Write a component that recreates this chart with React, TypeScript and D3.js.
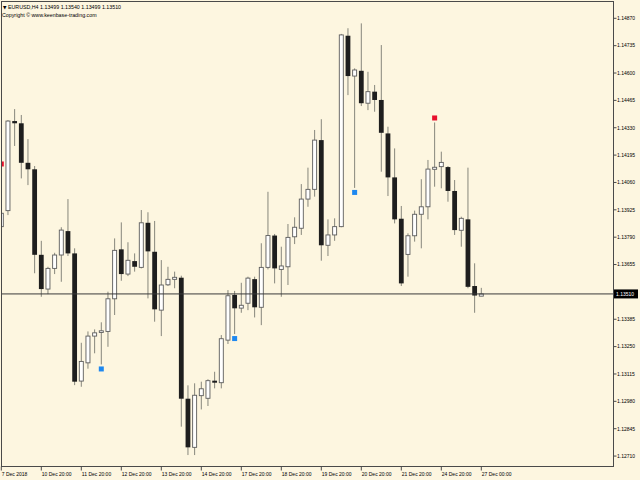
import * as d3 from 'd3';

const W = 640;
const H = 480;

// EURUSD H4 candles, oldest first
const opens = [
  1.13842, 1.13921, 1.14363, 1.14352, 1.14157, 1.14125, 1.13703, 1.13534, 1.13636, 1.13702,
  1.13820, 1.13710, 1.13080, 1.13170, 1.13302, 1.13320, 1.13325, 1.13486, 1.13730, 1.13608,
  1.13672, 1.13641, 1.13861, 1.13718, 1.13430, 1.13555, 1.13582, 1.13590, 1.12993, 1.12753,
  1.13008, 1.12995, 1.13082, 1.13072, 1.13282, 1.13505, 1.13440, 1.13464, 1.13583, 1.13444,
  1.13641, 1.13798, 1.13631, 1.13644, 1.13792, 1.13834, 1.13978, 1.14026, 1.14269, 1.13750,
  1.13801, 1.13842, 1.14784, 1.14585, 1.14611, 1.14451, 1.14508, 1.14467, 1.14302, 1.14085,
  1.13881, 1.13705, 1.13797, 1.13903, 1.13940, 1.14125, 1.14138, 1.14136, 1.14018, 1.13824,
  1.13878, 1.13549, 1.13499,
];
const highs = [
  1.14129, 1.14368, 1.14422, 1.14393, 1.14274, 1.14141, 1.13772, 1.13644, 1.13713, 1.13839,
  1.13978, 1.13735, 1.13269, 1.13325, 1.13335, 1.13370, 1.13521, 1.13784, 1.13863, 1.13765,
  1.13710, 1.13924, 1.13913, 1.13870, 1.13677, 1.13644, 1.13620, 1.13600, 1.13059, 1.13069,
  1.13077, 1.13089, 1.13126, 1.13307, 1.13529, 1.13525, 1.13565, 1.13595, 1.13595, 1.13760,
  1.14014, 1.13806, 1.13743, 1.13855, 1.13888, 1.14052, 1.14133, 1.14319, 1.14372, 1.13878,
  1.13883, 1.14793, 1.14821, 1.14623, 1.14845, 1.14606, 1.14541, 1.14738, 1.14335, 1.14228,
  1.13944, 1.13809, 1.13921, 1.14076, 1.14171, 1.14356, 1.14212, 1.14141, 1.14072, 1.13891,
  1.14133, 1.13661, 1.13540,
];
const lows = [
  1.13815, 1.13899, 1.14240, 1.14080, 1.14047, 1.13612, 1.13496, 1.13509, 1.13608, 1.13570,
  1.13697, 1.13060, 1.13052, 1.13141, 1.13217, 1.13162, 1.13249, 1.13406, 1.13575, 1.13598,
  1.13620, 1.13636, 1.13488, 1.13373, 1.13302, 1.13549, 1.13538, 1.12855, 1.12715, 1.12715,
  1.12940, 1.12957, 1.13044, 1.13044, 1.13263, 1.13312, 1.13417, 1.13430, 1.13394, 1.13356,
  1.13631, 1.13562, 1.13496, 1.13554, 1.13756, 1.13801, 1.13940, 1.13990, 1.13674, 1.13697,
  1.13772, 1.13839, 1.14491, 1.14033, 1.14437, 1.14417, 1.14409, 1.14113, 1.13993, 1.13858,
  1.13549, 1.13595, 1.13768, 1.13735, 1.13878, 1.14039, 1.14031, 1.13965, 1.13801, 1.13743,
  1.13538, 1.13417, 1.13499,
];
const closes = [
  1.13908, 1.14363, 1.14352, 1.14157, 1.14125, 1.13703, 1.13534, 1.13636, 1.13702, 1.13825,
  1.13710, 1.13077, 1.13177, 1.13302, 1.13318, 1.13328, 1.13486, 1.13725, 1.13608, 1.13676,
  1.13644, 1.13861, 1.13720, 1.13434, 1.13554, 1.13582, 1.13592, 1.12993, 1.12753, 1.13010,
  1.13042, 1.13082, 1.13072, 1.13289, 1.13501, 1.13439, 1.13454, 1.13588, 1.13444, 1.13641,
  1.13798, 1.13636, 1.13648, 1.13789, 1.13839, 1.13978, 1.14026, 1.14269, 1.13750, 1.13801,
  1.13842, 1.14788, 1.14585, 1.14615, 1.14451, 1.14508, 1.14467, 1.14305, 1.14085, 1.13878,
  1.13562, 1.13797, 1.13903, 1.13940, 1.14126, 1.14135, 1.14159, 1.14018, 1.13825, 1.13883,
  1.13545, 1.13502, 1.13510,
];

// signal arrows of the indicator (bar indexes)
const sellSignals = [0, 65];
const buySignals = [15, 35, 53];

const timeLabels = [
  '7 Dec 2018', '10 Dec 20:00', '11 Dec 20:00', '12 Dec 20:00', '13 Dec 20:00',
  '14 Dec 20:00', '17 Dec 20:00', '18 Dec 20:00', '19 Dec 20:00', '20 Dec 20:00',
  '21 Dec 20:00', '24 Dec 20:00', '27 Dec 00:00',
];
const priceTicks = [
  1.12710, 1.12845, 1.12980, 1.13115, 1.13250, 1.13385, 1.13655, 1.13790,
  1.13925, 1.14060, 1.14195, 1.14330, 1.14465, 1.14600, 1.14735, 1.14870,
];
const lastPrice = 1.13510;
const symbol = 'EURUSD,H4';
const copyright = 'Copyright © www.keenbase-trading.com';

const BG = '#fdf6e0';
const FONT = '"Liberation Sans", Arial, sans-serif';

export default function App() {
  const left = 1.5, top = 1.5, right = 613.5, bottom = 466.5;

  const x = d3.scaleLinear().domain([0, 72]).range([1.3, 481.3]);
  const y = d3.scaleLinear().domain([1.126585, 1.149529]).range([bottom, top]);

  const bars = d3.range(opens.length);
  const n = closes.length;
  const header = `${symbol}  ${opens[n - 1].toFixed(5)} ${highs[n - 1].toFixed(5)} ${lows[n - 1].toFixed(5)} ${closes[n - 1].toFixed(5)}`;

  return (
    <svg width={W} height={H} style={{ position: 'absolute', left: 0, top: 0, display: 'block', background: BG }}>
      <defs>
        <clipPath id="plot">
          <rect x={left} y={top} width={right - left} height={bottom - top} />
        </clipPath>
      </defs>
      <rect width={W} height={H} fill={BG} />

      <g clipPath="url(#plot)">
        {/* wicks */}
        {bars.map(i => (
          <line key={'w' + i} x1={x(i)} x2={x(i)} y1={y(highs[i])} y2={y(lows[i])}
            stroke="#86867c" strokeWidth={1} />
        ))}
        {/* bodies */}
        {bars.map(i => {
          const bull = closes[i] >= opens[i];
          const y0 = y(Math.max(opens[i], closes[i]));
          const y1 = y(Math.min(opens[i], closes[i]));
          const h = Math.max(1, y1 - y0);
          return bull ? (
            <rect key={'b' + i} x={x(i) - 2} y={y0} width={4} height={h}
              fill="#ffffff" stroke="#5c5c5c" strokeWidth={0.9} />
          ) : (
            <rect key={'b' + i} x={x(i) - 2.4} y={y0} width={4.8} height={h} fill="#1e1e1e" />
          );
        })}
        {/* current price line */}
        <line x1={left} x2={right} y1={y(lastPrice)} y2={y(lastPrice)} stroke="#3a3a3a" strokeWidth={1} />
        {/* signals */}
        {sellSignals.map(i => (
          <rect key={'s' + i} x={x(i) - 2.5} y={y(highs[i]) - 7} width={5} height={5} fill="#e8102c" />
        ))}
        {buySignals.map(i => (
          <rect key={'u' + i} x={x(i) - 2.5} y={y(lows[i]) + 2} width={5} height={5} fill="#1e88f0" />
        ))}
      </g>

      {/* frame */}
      <rect x={left} y={top} width={right - left} height={bottom - top} fill="none" stroke="#4a4a4a" strokeWidth={1} />

      {/* price axis */}
      {priceTicks.map(p => (
        <g key={p}>
          <line x1={right} x2={right + 3} y1={y(p)} y2={y(p)} stroke="#4a4a4a" />
          <text x={617} y={y(p) + 1.8} fontSize={5} fontFamily={FONT} fill="#000">{p.toFixed(5)}</text>
        </g>
      ))}
      <rect x={614} y={y(lastPrice) - 4.5} width={24} height={9} fill="#000" />
      <text x={616} y={y(lastPrice) + 1.8} fontSize={5} fontFamily={FONT} fill="#fff">{lastPrice.toFixed(5)}</text>

      {/* time axis */}
      {timeLabels.map((t, k) => {
        const tx = x(k * 6);
        return (
          <g key={t}>
            <line x1={tx} x2={tx} y1={bottom} y2={bottom + 4} stroke="#4a4a4a" />
            <text x={tx + 0.5} y={476} fontSize={5} fontFamily={FONT} fill="#000">{t}</text>
          </g>
        );
      })}

      {/* header */}
      <text x={3} y={9} fontSize={5.3} fontFamily={FONT} fill="#000">
        <tspan fontFamily='"DejaVu Sans", sans-serif' fontSize={4.5}>▼</tspan> {header}
      </text>
      <text x={2} y={17} fontSize={5.3} fontFamily={FONT} fill="#000">{copyright}</text>
    </svg>
  );
}
